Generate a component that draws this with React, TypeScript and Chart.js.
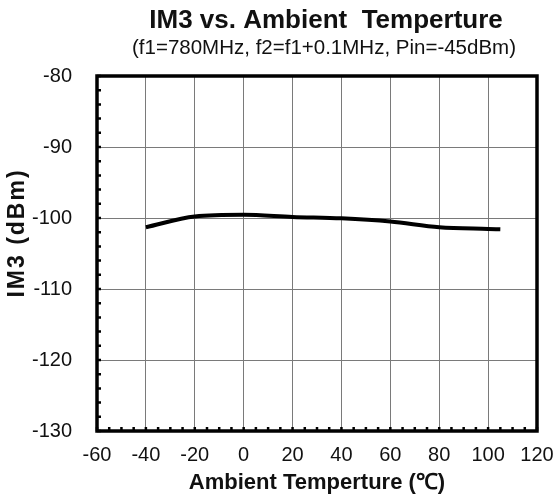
import React, { useEffect, useRef } from "react";
import { Chart, registerables } from "chart.js";

Chart.register(...registerables);

const temperatures = [-40, -20, 0, 20, 40, 60, 80, 100, 105];
const im3Values = [-101.3, -99.8, -99.55, -99.85, -100.05, -100.5, -101.3, -101.55, -101.6];
const xTicks = [-60, -40, -20, 0, 20, 40, 60, 80, 100, 120];
const yTicks = [-130, -120, -110, -100, -90, -80];
const titleText = "IM3 vs. Ambient  Temperture";
const subtitleText = "(f1=780MHz, f2=f1+0.1MHz, Pin=-45dBm)";
const xTitle = "Ambient Temperture (\u2103)";
const yTitle = "IM3 (dBm)";

const FONT = "'Liberation Sans', Arial, sans-serif";

const decorPlugin = {
  id: "decor",
  afterDraw(chart: any) {
    const { ctx, chartArea, scales } = chart;
    const x = scales.x;
    const y = scales.y;
    ctx.save();
    // titles
    ctx.fillStyle = "#111";
    ctx.textAlign = "center";
    ctx.textBaseline = "middle";
    ctx.font = "bold 26px " + FONT;
    ctx.fillText(titleText, 326, 21);
    ctx.font = "20.5px " + FONT;
    ctx.fillText(subtitleText, 324, 48);
    // y axis title
    ctx.save();
    ctx.translate(18, 233);
    ctx.rotate(-Math.PI / 2);
    ctx.font = "bold 23px " + FONT;
    try { (ctx as any).letterSpacing = "2px"; } catch (e) {}
    ctx.fillText(yTitle, 0, 0);
    ctx.restore();
    // minor ticks
    ctx.strokeStyle = "#000";
    ctx.lineWidth = 2.5;
    ctx.beginPath();
    for (let v = xTicks[0]; v <= xTicks[xTicks.length - 1]; v += 5) {
      const px = x.getPixelForValue(v);
      ctx.moveTo(px, chartArea.bottom);
      ctx.lineTo(px, chartArea.bottom - 4);
    }
    for (let v = yTicks[0]; v <= yTicks[yTicks.length - 1]; v += 2) {
      const py = y.getPixelForValue(v);
      ctx.moveTo(chartArea.left, py);
      ctx.lineTo(chartArea.left + 4, py);
    }
    ctx.stroke();
    // frame
    ctx.lineWidth = 3.5;
    ctx.strokeRect(chartArea.left, chartArea.top, chartArea.right - chartArea.left, chartArea.bottom - chartArea.top);
    ctx.restore();
  },
};

export default function App() {
  const ref = useRef<HTMLCanvasElement>(null);
  useEffect(() => {
    if (!ref.current) return;
    const chart = new Chart(ref.current, {
      type: "line",
      data: {
        datasets: [
          {
            data: temperatures.map((t, i) => ({ x: t, y: im3Values[i] })),
            borderColor: "#000",
            borderWidth: 4,
            pointRadius: 0,
            tension: 0.4,
            cubicInterpolationMode: "monotone",
            fill: false,
          },
        ],
      },
      options: {
        animation: false,
        responsive: false,
        devicePixelRatio: 1,
        layout: { padding: { top: 76, right: 19, left: 0, bottom: 0 } },
        plugins: { legend: { display: false }, tooltip: { enabled: false }, title: { display: false } },
        scales: {
          x: {
            type: "linear",
            min: -60,
            max: 120,
            afterBuildTicks: (s: any) => { s.ticks = xTicks.map((v) => ({ value: v })); },
            afterFit: (s: any) => { s.height = 65; s.paddingLeft = 0; s.paddingRight = 0; },
            grid: { color: "#7a7a7a", lineWidth: 1, drawTicks: false },
            border: { display: false },
            ticks: { padding: 12, color: "#111", font: { family: FONT, size: 20 }, maxRotation: 0 },
            title: { display: true, text: xTitle, color: "#111", padding: { top: 0, bottom: 0 }, font: { family: FONT, size: 22, weight: "bold" } },
          },
          y: {
            min: -130,
            max: -80,
            afterBuildTicks: (s: any) => { s.ticks = yTicks.map((v) => ({ value: v })); },
            afterFit: (s: any) => { s.width = 97; s.paddingTop = 0; s.paddingBottom = 0; },
            grid: { color: "#7a7a7a", lineWidth: 1, drawTicks: false },
            border: { display: false },
            ticks: { padding: 25, color: "#111", font: { family: FONT, size: 20 } },
            title: { display: false },
          },
        },
      },
      plugins: [decorPlugin],
    });
    return () => chart.destroy();
  }, []);
  return (
    <div style={{ position: "fixed", left: 0, top: 0, width: 556, height: 496, background: "#fff" }}>
      <canvas ref={ref} width={556} height={496} style={{ width: 556, height: 496 }} />
    </div>
  );
}
